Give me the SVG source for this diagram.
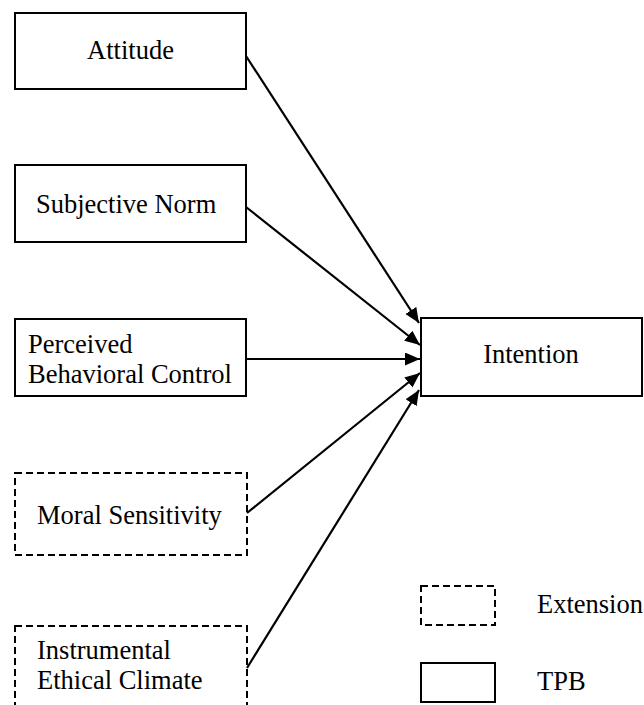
<svg xmlns="http://www.w3.org/2000/svg" width="644" height="705" viewBox="0 0 644 705">
  <style>
    .box { fill: #ffffff; stroke: #000000; stroke-width: 2; }
    .ext { fill: #ffffff; stroke: #000000; stroke-width: 2; stroke-dasharray: 7 4; }
    .lbl { font-size: 26.5px; fill: #000000; }
    .edge { stroke: #000000; stroke-width: 2.2; fill: none; marker-end: url(#arrow); }
  </style>
  <defs>
    <marker id="arrow" markerUnits="userSpaceOnUse" markerWidth="17" markerHeight="14" refX="15" refY="6.5" orient="auto">
      <path d="M0,0 L15,6.5 L0,13 z" fill="#000000"/>
    </marker>
  </defs>
  <rect width="644" height="705" fill="#ffffff"/>

  <g font-family="Liberation Serif, Tinos, Times New Roman, DejaVu Serif, serif">
    <!-- predictor constructs -->
    <g id="attitude">
      <rect class="box" x="15" y="13" width="231" height="76"/>
      <text class="lbl" x="130.5" y="59" text-anchor="middle">Attitude</text>
    </g>
    <g id="subjective-norm">
      <rect class="box" x="15" y="165" width="231" height="77"/>
      <text class="lbl" x="36" y="213">Subjective Norm</text>
    </g>
    <g id="perceived-behavioral-control">
      <rect class="box" x="15" y="319" width="231" height="77"/>
      <text class="lbl" x="28" y="353">Perceived</text>
      <text class="lbl" x="28" y="383">Behavioral Control</text>
    </g>
    <g id="moral-sensitivity">
      <rect class="ext" x="15" y="473" width="232" height="82"/>
      <text class="lbl" x="37" y="524">Moral Sensitivity</text>
    </g>
    <g id="instrumental-ethical-climate">
      <rect class="ext" x="15" y="626" width="232" height="90"/>
      <text class="lbl" x="37" y="659">Instrumental</text>
      <text class="lbl" x="37" y="689">Ethical Climate</text>
    </g>

    <!-- outcome -->
    <g id="intention">
      <rect class="box" x="421" y="318" width="221" height="78"/>
      <text class="lbl" x="531" y="363" text-anchor="middle">Intention</text>
    </g>

    <!-- legend -->
    <g id="legend-extension">
      <rect class="ext" x="421" y="586" width="74" height="39"/>
      <text class="lbl" x="537" y="613">Extension</text>
    </g>
    <g id="legend-tpb">
      <rect class="box" x="421" y="663" width="74" height="39"/>
      <text class="lbl" x="537" y="690">TPB</text>
    </g>
  </g>

  <!-- paths into Intention -->
  <g id="connectors">
    <line class="edge" x1="246" y1="56" x2="419" y2="323"/>
    <line class="edge" x1="246" y1="207" x2="420" y2="345"/>
    <line class="edge" x1="246" y1="359" x2="420" y2="359"/>
    <line class="edge" x1="247" y1="513" x2="420" y2="373"/>
    <line class="edge" x1="247" y1="668" x2="419" y2="390"/>
  </g>
</svg>
